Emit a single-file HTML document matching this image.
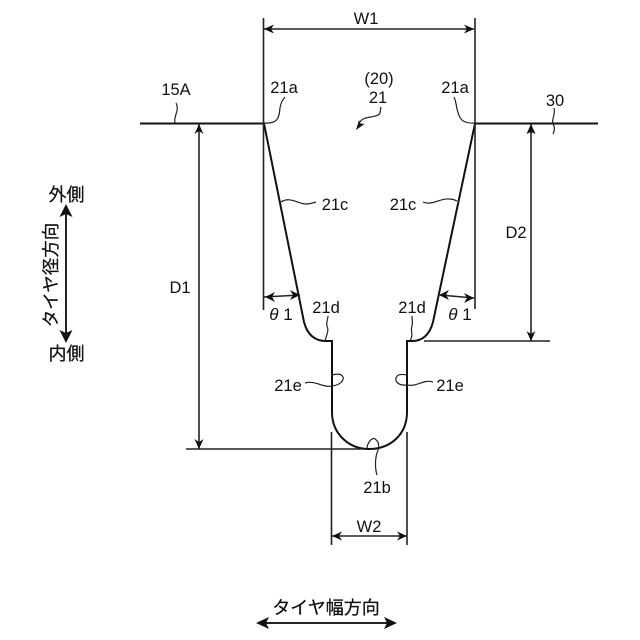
<!DOCTYPE html>
<html><head><meta charset="utf-8"><style>
html,body{margin:0;padding:0;background:#fff}
svg{display:block}
text{font-family:"Liberation Sans","Noto Sans CJK JP",sans-serif;font-size:16.5px;fill:#111;text-anchor:middle}
.j{font-size:18px;stroke:#111;stroke-width:.25}
.m{fill:none;stroke:#111;stroke-width:2}
.t{fill:none;stroke:#222;stroke-width:1.6}
.l{fill:none;stroke:#222;stroke-width:1.2}
.a{fill:#111;stroke:none}
</style></head><body>
<svg width="640" height="640" viewBox="0 0 640 640" xmlns="http://www.w3.org/2000/svg">
<path class="m" d="M140 123.500H264L304 322Q309 341 326 341H332V412C332 434 349 449 369 449C391 449 407 434 407 412V341H412Q428 341 433 322L475 123.500H598"/>
<path class="t" d="M263.500 18V310M475 18V309M264 29H474M199 124V449M186 449H362M531 124V341M424 341H550M331.500 432V545M407 432V545M332 536H407M264 297L300 295M440 295L474 298"/>
<path class="t" style="stroke-width:2" d="M66 210V338M262 623H392"/>
<!-- arrowheads -->
<path class="a" d="M264 29l10-4.500-3 4.500 3 4.500zM474 29l-10-4.500 3 4.500-3 4.500zM199 124l-4.500 10 4.500-3 4.500 3zM199 449l-4.500-10 4.500 3 4.500-3zM531 124l-4.500 10 4.500-2 4.500 2zM531 341l-4.500-10 4.500 3 4.500-3zM332 536l10-4.500-3 4.500 3 4.500zM407 536l-10-4.500 3 4.500-3 4.500zM265 297l10-5-3 5 3 5zM300 295l-10-5 3 5-3 5zM439 295l10 5-3-5 3-5zM474 298l-10 5 3-5-3-5z"/>
<path class="a" d="M66 204l-6.500 13 6.500-3 6.500 3zM66 343l-6.500-13 6.500 3 6.500-3zM256 623l13-6-3 6 3 6zM397 623l-13-6 3 6-3 6z"/>
<path class="a" d="M356 130l3 -10 1.500 3.500 4 .5z"/>
<!-- leaders -->
<path class="l" d="M175 123C173 116 180 111 176 103M264 123C278 124 279 118 280 108C281 102 283 99 285 97M474 123C460 124 459 116 457 109C456 103 455 99 454 97M554 108C556 116 550 120 554 126C555 129 554 132 553 134"/>
<path class="l" d="M360 122C364 116 372 118 378 115C381 114 380 110 381 107"/>
<path class="l" d="M281 202C290 196 298 204 306 204C310 204 313 203 316 202M423 202C432 206 440 198 449 199C452 199 455 200 457 201"/>
<path class="l" d="M325 341C327 334 329 330 327 326C326 322 328 319 328 316M410 341C414 334 410 330 412 326C413 322 412 319 412 316"/>
<path class="l" d="M305 383C316 380 322 388 332 386C341 385 344 380 343 377C341 373 336 374 332 375M433 382C423 379 418 387 407 385C398 386 395 381 396 378C397 374 402 374 407 375"/>
<path class="l" d="M367 449C367 443 372 437 375 439C380 442 379 448 377 453C375 459 375 469 377 475"/>
<!-- labels -->
<text x="366" y="24">W1</text>
<text x="176" y="95">15A</text>
<text x="284" y="93">21a</text>
<text x="455" y="93">21a</text>
<text x="555" y="106">30</text>
<text x="379" y="84">(20)</text>
<text x="378" y="103">21</text>
<text x="335" y="210">21c</text>
<text x="403" y="210">21c</text>
<text x="516" y="238">D2</text>
<text x="180" y="293">D1</text>
<text x="281" y="320" style="font-size:17px"><tspan font-style="italic">θ</tspan> 1</text>
<text x="460" y="320" style="font-size:17px"><tspan font-style="italic">θ</tspan> 1</text>
<text x="326" y="313">21d</text>
<text x="412" y="313">21d</text>
<text x="288" y="391">21e</text>
<text x="450" y="391">21e</text>
<text x="377" y="493">21b</text>
<text x="369" y="532">W2</text>
<text class="j" x="66.500" y="201">外側</text>
<text class="j" x="66.500" y="360">内側</text>
<text class="j" transform="translate(57 275) rotate(-90)" style="font-size:17.500px">タイヤ径方向</text>
<text class="j" x="326" y="614">タイヤ幅方向</text>
</svg>
</body></html>
